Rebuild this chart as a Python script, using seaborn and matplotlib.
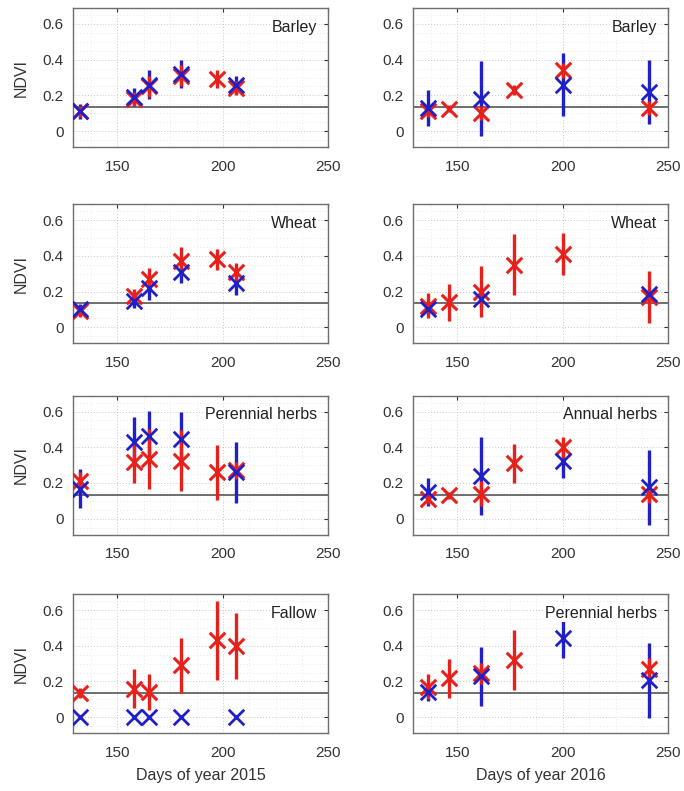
import numpy as np
import pandas as pd
import matplotlib
matplotlib.use("Agg")
import matplotlib.pyplot as plt
from matplotlib.ticker import AutoMinorLocator, MultipleLocator
import seaborn as sns

nan = np.nan

days_2015 = [132, 158, 165, 180, 197, 206]
days_2016 = [136, 146, 161, 177, 200, 241]

# Barley 2015
barley15_red = [0.11, 0.18, 0.25, 0.31, 0.29, 0.24]
barley15_red_err = [0.03, 0.04, 0.06, 0.06, 0.05, 0.04]
barley15_blue = [0.11, 0.19, 0.26, 0.32, nan, 0.26]
barley15_blue_err = [0.04, 0.05, 0.08, 0.08, nan, 0.05]

# Barley 2016
barley16_red = [0.11, 0.125, 0.10, 0.23, 0.34, 0.13]
barley16_red_err = [0.03, 0.02, 0.04, 0.03, 0.04, 0.04]
barley16_blue = [0.13, nan, 0.18, nan, 0.26, 0.22]
barley16_blue_err = [0.10, nan, 0.21, nan, 0.175, 0.18]

# Wheat 2015
wheat15_red = [0.09, 0.175, 0.27, 0.37, 0.38, 0.31]
wheat15_red_err = [0.03, 0.04, 0.06, 0.08, 0.06, 0.05]
wheat15_blue = [0.10, 0.148, 0.22, 0.31, nan, 0.25]
wheat15_blue_err = [0.03, 0.04, 0.07, 0.06, nan, 0.07]

# Wheat 2016
wheat16_red = [0.12, 0.14, 0.20, 0.35, 0.41, 0.17]
wheat16_red_err = [0.07, 0.105, 0.145, 0.17, 0.12, 0.145]
wheat16_blue = [0.10, nan, 0.157, nan, nan, 0.185]
wheat16_blue_err = [0.03, nan, 0.05, nan, nan, 0.03]

# Perennial herbs 2015
perennial15_red = [0.21, 0.32, 0.335, 0.325, 0.26, 0.27]
perennial15_red_err = [0.05, 0.12, 0.17, 0.17, 0.155, 0.05]
perennial15_blue = [0.167, 0.43, 0.465, 0.446, nan, 0.26]
perennial15_blue_err = [0.11, 0.14, 0.14, 0.15, nan, 0.17]

# Annual herbs 2016
annual16_red = [0.11, 0.13, 0.14, 0.31, 0.40, 0.14]
annual16_red_err = [0.03, 0.02, 0.07, 0.11, 0.06, 0.05]
annual16_blue = [0.149, nan, 0.24, nan, 0.325, 0.177]
annual16_blue_err = [0.08, nan, 0.22, nan, 0.10, 0.21]

# Fallow 2015
fallow15_red = [0.136, 0.16, 0.14, 0.29, 0.43, 0.40]
fallow15_red_err = [0.03, 0.11, 0.10, 0.155, 0.22, 0.185]
fallow15_blue = [0.0, 0.0, 0.0, 0.0, nan, 0.0]
fallow15_blue_err = [0.0, 0.0, 0.0, 0.0, nan, 0.0]

# Perennial herbs 2016
perennial16_red = [0.17, 0.217, 0.245, 0.32, nan, 0.27]
perennial16_red_err = [0.07, 0.11, 0.06, 0.17, nan, 0.06]
perennial16_blue = [0.14, nan, 0.23, nan, 0.443, 0.207]
perennial16_blue_err = [0.05, nan, 0.165, nan, 0.11, 0.21]

threshold = 0.135

panels = [
    ("Barley", days_2015, barley15_red, barley15_red_err, barley15_blue, barley15_blue_err),
    ("Barley", days_2016, barley16_red, barley16_red_err, barley16_blue, barley16_blue_err),
    ("Wheat", days_2015, wheat15_red, wheat15_red_err, wheat15_blue, wheat15_blue_err),
    ("Wheat", days_2016, wheat16_red, wheat16_red_err, wheat16_blue, wheat16_blue_err),
    ("Perennial herbs", days_2015, perennial15_red, perennial15_red_err, perennial15_blue, perennial15_blue_err),
    ("Annual herbs", days_2016, annual16_red, annual16_red_err, annual16_blue, annual16_blue_err),
    ("Fallow", days_2015, fallow15_red, fallow15_red_err, fallow15_blue, fallow15_blue_err),
    ("Perennial herbs", days_2016, perennial16_red, perennial16_red_err, perennial16_blue, perennial16_blue_err),
]

sns.set_style("white")
plt.rcParams['font.family'] = ['Liberation Sans', 'DejaVu Sans']

RED = "#e8201c"
BLUE = "#2020c8"

fig = plt.figure(figsize=(6.84, 7.91), dpi=100)
lefts = [0.107, 0.604]
bottoms = [0.814, 0.566, 0.324, 0.073]
W, H = 0.373, 0.176

for i, (name, days, r, re, b, be) in enumerate(panels):
    row, col = divmod(i, 2)
    ax = fig.add_axes([lefts[col], bottoms[row], W, H])
    df = pd.DataFrame({"day": days, "red": r, "red_err": re, "blue": b, "blue_err": be})

    ax.axhline(threshold, color="#555555", lw=1.2, zorder=1)

    # error bars
    ax.errorbar(df["day"], df["blue"], yerr=df["blue_err"], fmt="none",
                ecolor=BLUE, elinewidth=2.4, capsize=0, zorder=2)
    ax.errorbar(df["day"], df["red"], yerr=df["red_err"], fmt="none",
                ecolor=RED, elinewidth=2.4, capsize=0, zorder=3)
    sns.scatterplot(data=df, x="day", y="red", marker="x", s=125, linewidth=2.2,
                    color=RED, ax=ax, legend=False, zorder=4)
    sns.scatterplot(data=df, x="day", y="blue", marker="x", s=125, linewidth=2.0,
                    color=BLUE, ax=ax, legend=False, zorder=5)

    ax.set_xlim(129, 250)
    ax.set_ylim(-0.09, 0.69)
    ax.xaxis.set_major_locator(MultipleLocator(50))
    ax.xaxis.set_minor_locator(AutoMinorLocator(4))
    ax.set_yticks([0, 0.2, 0.4, 0.6])
    ax.set_yticklabels(["0", "0.2", "0.4", "0.6"])
    ax.yaxis.set_minor_locator(AutoMinorLocator(4))
    ax.grid(True, which="major", linestyle=(0, (1, 2)), color="#c8c8c8", lw=0.7)
    ax.grid(True, which="minor", linestyle=(0, (1, 3)), color="#e2e2e2", lw=0.6)
    ax.tick_params(axis="both", which="major", direction="in", length=3, width=0.8,
                   labelsize=11, colors="#333333", top=True, right=True)
    ax.tick_params(axis="x", which="major", pad=9)
    ax.tick_params(axis="y", which="major", pad=7)
    ax.tick_params(axis="both", which="minor", length=0)
    for sp in ax.spines.values():
        sp.set_color("#6e6e6e")
        sp.set_linewidth(1.0)

    ax.text(0.955, 0.86, name, transform=ax.transAxes, ha="right", va="center",
            fontsize=11.5, color="#222222",
            bbox=dict(facecolor="white", edgecolor="none", pad=0.5))

    ax.set_xlabel("")
    ax.set_ylabel("")
    if col == 0:
        ax.set_ylabel("NDVI", fontsize=11.5, color="#333333", labelpad=10)
    if row == 3:
        ax.set_xlabel("Days of year 2015" if col == 0 else "Days of year 2016",
                      fontsize=11.5, color="#333333", labelpad=6)

fig.savefig("out.png", dpi=100)
